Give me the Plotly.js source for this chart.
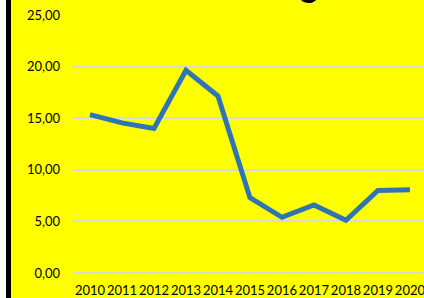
<!DOCTYPE html>
<html>
<head>
<meta charset="utf-8">
<script src="https://cdn.plot.ly/plotly-3.0.1.min.js"></script>
<style>
  html, body { margin: 0; padding: 0; background: #ffffff; }
  #chart { position: absolute; left: 6px; top: 0; width: 413px; height: 298px; border-left: 5px solid #000; }
</style>
</head>
<body>
<div id="chart"></div>
<script>
const years = ['2010','2011','2012','2013','2014','2015','2016','2017','2018','2019','2020'];
const values = [15.35, 14.55, 14.0, 19.65, 17.15, 7.3, 5.4, 6.6, 5.1, 8.0, 8.07];
const yTicks = [0, 5, 10, 15, 20, 25];
const titleText = 'g';

const trace = {
  x: years,
  y: values,
  type: 'scatter',
  mode: 'lines',
  line: { color: '#2E75B6', width: 5 },
  hoverinfo: 'skip'
};

const layout = {
  width: 413,
  height: 298,
  margin: { l: 63, r: 0, t: 15, b: 24.5, pad: 0 },
  paper_bgcolor: '#FFFF00',
  plot_bgcolor: '#FFFF00',
  separators: ',.',
  showlegend: false,
  font: { family: 'Lato, "Open Sans", sans-serif', size: 13, color: '#000' },
  xaxis: {
    type: 'category',
    range: [-0.5, 10.44],
    showgrid: false,
    zeroline: false,
    showline: false,
    ticks: '',
    tickangle: 0,
    automargin: false,
    ticklabelstandoff: 8,
    tickfont: { family: 'Lato, sans-serif', size: 13, color: '#000' },
    fixedrange: true
  },
  yaxis: {
    range: [0, 25],
    tickvals: yTicks,
    tickformat: '.2f',
    showgrid: true,
    gridcolor: '#D9D9D9',
    gridwidth: 2,
    zeroline: true,
    zerolinecolor: '#D9D9D9',
    zerolinewidth: 2,
    showline: false,
    ticks: '',
    automargin: false,
    ticklabelstandoff: 13,
    tickfont: { family: 'Lato, sans-serif', size: 13, color: '#000' },
    fixedrange: true
  },
  annotations: [{
    text: titleText,
    xref: 'paper', yref: 'paper',
    x: 0.67, y: 1.035,
    xanchor: 'center', yanchor: 'bottom',
    showarrow: false,
    font: { family: 'Lato, sans-serif', size: 34, color: '#000', weight: 'bold' }
  }]
};

Plotly.newPlot('chart', [trace], layout, { staticPlot: true, displayModeBar: false });
</script>
</body>
</html>
